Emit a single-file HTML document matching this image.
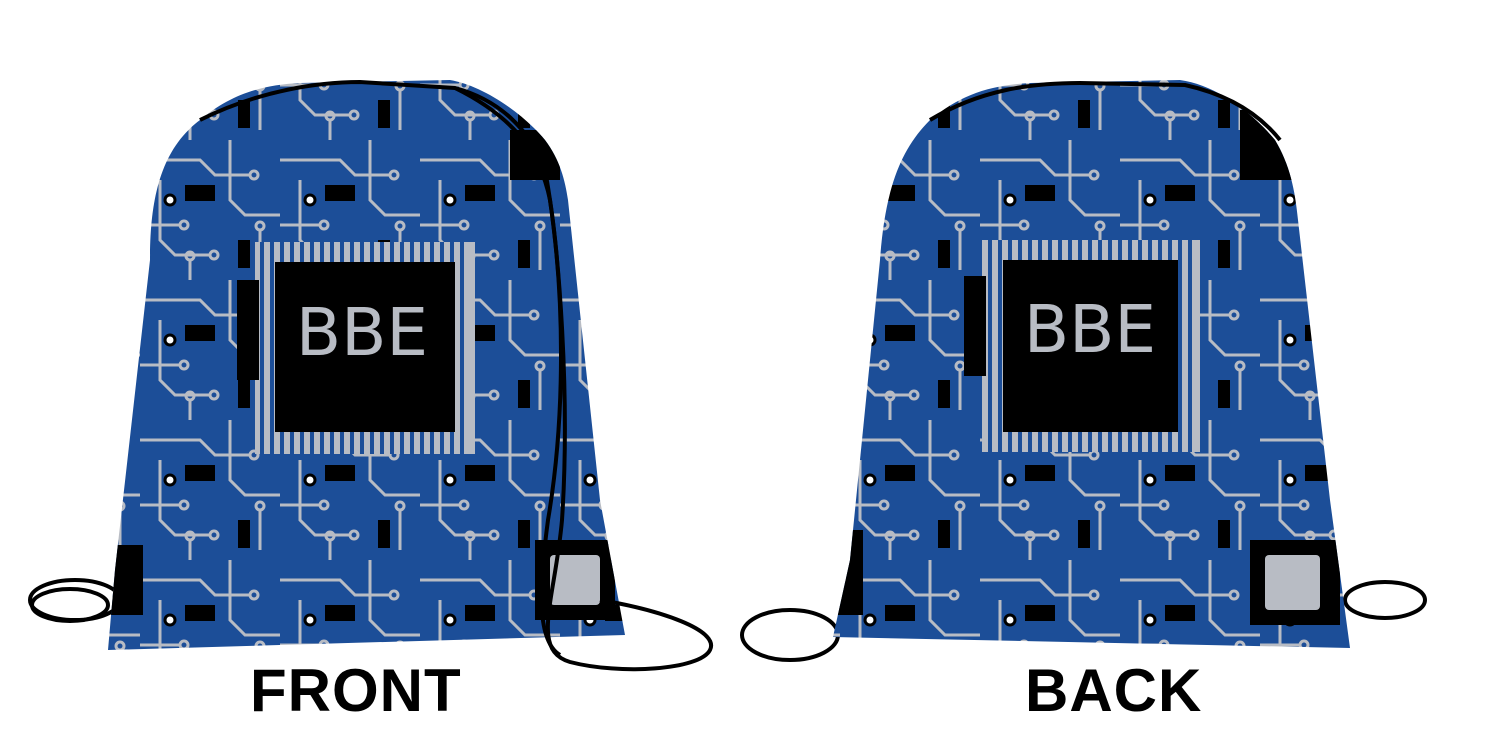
<!DOCTYPE html>
<html><head><style>
html,body{margin:0;padding:0;background:#fff;width:1500px;height:750px;overflow:hidden}
.lbl{position:absolute;font-family:"Liberation Sans",sans-serif;font-weight:bold;font-size:60px;color:#000;top:656px;letter-spacing:1px}
</style></head><body>
<svg width="1500" height="750" viewBox="0 0 1500 750" style="position:absolute;left:0;top:0">
<defs>
<pattern id="cir" width="140" height="140" patternUnits="userSpaceOnUse">
<rect width="140" height="140" fill="#1c4e98"/>
<g stroke="#b8bcc4" stroke-width="3" fill="none">
<path d="M0,20 H60 L75,35 H110"/><circle cx="114" cy="35" r="4"/>
<path d="M20,40 V100 L35,115 H70"/><circle cx="74" cy="115" r="4"/>
<path d="M90,0 V60 L105,75 H140"/>
<path d="M0,85 H40"/><circle cx="44" cy="85" r="4"/>
<path d="M50,140 V120"/><circle cx="50" cy="116" r="4"/>
<path d="M120,90 V130"/><circle cx="120" cy="86" r="4"/>
</g>
<rect x="45" y="45" width="30" height="16" fill="#000"/>
<rect x="98" y="100" width="12" height="28" fill="#000"/>
<circle cx="30" cy="60" r="5" fill="#fff" stroke="#000" stroke-width="3"/>
</pattern>
<clipPath id="fb"><path d="M108,650 L115,570 L150,260 C150,200 160,150 200,120 C230,95 260,85 300,83 L450,80 C480,85 520,110 545,140 C560,160 565,180 568,200 L600,500 L625,635 Z"/></clipPath>
<clipPath id="bb"><path d="M833,637 L850,560 L880,260 C885,190 900,150 930,120 C960,95 990,85 1030,83 L1180,80 C1215,85 1250,110 1275,140 C1290,165 1295,190 1298,220 L1330,500 L1350,648 Z"/></clipPath>
</defs>

<!-- front back-strings -->
<ellipse cx="75" cy="600" rx="45" ry="20" fill="none" stroke="#000" stroke-width="4"/>
<ellipse cx="70" cy="605" rx="38" ry="16" fill="none" stroke="#000" stroke-width="4"/>
<ellipse cx="790" cy="635" rx="48" ry="25" fill="none" stroke="#000" stroke-width="4"/>
<ellipse cx="1385" cy="600" rx="40" ry="18" fill="none" stroke="#000" stroke-width="4"/>

<g clip-path="url(#fb)">
<rect x="100" y="70" width="540" height="590" fill="url(#cir)"/>
<g fill="#b8bcc4">
<rect x="255" y="242" width="220" height="212"/>
</g>
<g stroke="#1c4e98" stroke-width="4">
<path d="M262,242 V454 M272,242V454 M282,242V454 M292,242V454 M302,242V454 M312,242V454 M322,242V454 M332,242V454 M342,242V454 M352,242V454 M362,242V454 M372,242V454 M382,242V454 M392,242V454 M402,242V454 M412,242V454 M422,242V454 M432,242V454 M442,242V454 M452,242V454 M462,242V454"/>
</g>
<rect x="275" y="262" width="180" height="170" fill="#000"/>
<rect x="237" y="280" width="22" height="100" fill="#000"/>
<rect x="510" y="130" width="50" height="50" fill="#000"/>
<rect x="535" y="540" width="80" height="80" fill="#000"/>
<rect x="550" y="555" width="50" height="50" fill="#b8bcc4" rx="4"/>
<rect x="108" y="545" width="35" height="70" fill="#000"/>
</g>
<text x="362" y="355" font-family="'DejaVu Sans','Liberation Sans',sans-serif" font-size="66" fill="#b8bcc4" text-anchor="middle">BBE</text>

<g clip-path="url(#bb)">
<rect x="825" y="70" width="540" height="590" fill="url(#cir)"/>
<rect x="982" y="240" width="218" height="212" fill="#b8bcc4"/>
<g stroke="#1c4e98" stroke-width="4">
<path d="M990,240V452 M1000,240V452 M1010,240V452 M1020,240V452 M1030,240V452 M1040,240V452 M1050,240V452 M1060,240V452 M1070,240V452 M1080,240V452 M1090,240V452 M1100,240V452 M1110,240V452 M1120,240V452 M1130,240V452 M1140,240V452 M1150,240V452 M1160,240V452 M1170,240V452 M1180,240V452 M1190,240V452"/>
</g>
<rect x="1003" y="260" width="175" height="172" fill="#000"/>
<rect x="964" y="276" width="22" height="100" fill="#000"/>
<rect x="1240" y="110" width="60" height="70" fill="#000"/>
<rect x="1250" y="540" width="90" height="85" fill="#000"/>
<rect x="1265" y="555" width="55" height="55" fill="#b8bcc4" rx="4"/>
<rect x="833" y="530" width="30" height="85" fill="#000"/>
</g>
<text x="1090" y="352" font-family="'DejaVu Sans','Liberation Sans',sans-serif" font-size="66" fill="#b8bcc4" text-anchor="middle">BBE</text>

<!-- front strings -->
<path d="M200,120 C260,90 320,82 360,82 L455,88 C500,100 530,130 545,170 C560,250 570,400 562,520 C555,600 530,650 570,662 C620,675 700,670 710,650 C720,630 660,610 600,600" fill="none" stroke="#000" stroke-width="4"/>
<path d="M455,88 C510,115 540,150 550,200 C565,300 565,420 548,520 C540,580 535,640 560,655" fill="none" stroke="#000" stroke-width="4"/>
<path d="M930,120 C980,90 1030,83 1080,83 L1185,85 C1230,95 1260,115 1280,140" fill="none" stroke="#000" stroke-width="4"/>
</svg>
<div class="lbl" style="left:250px">FRONT</div>
<div class="lbl" style="left:1025px">BACK</div>
</body></html>
